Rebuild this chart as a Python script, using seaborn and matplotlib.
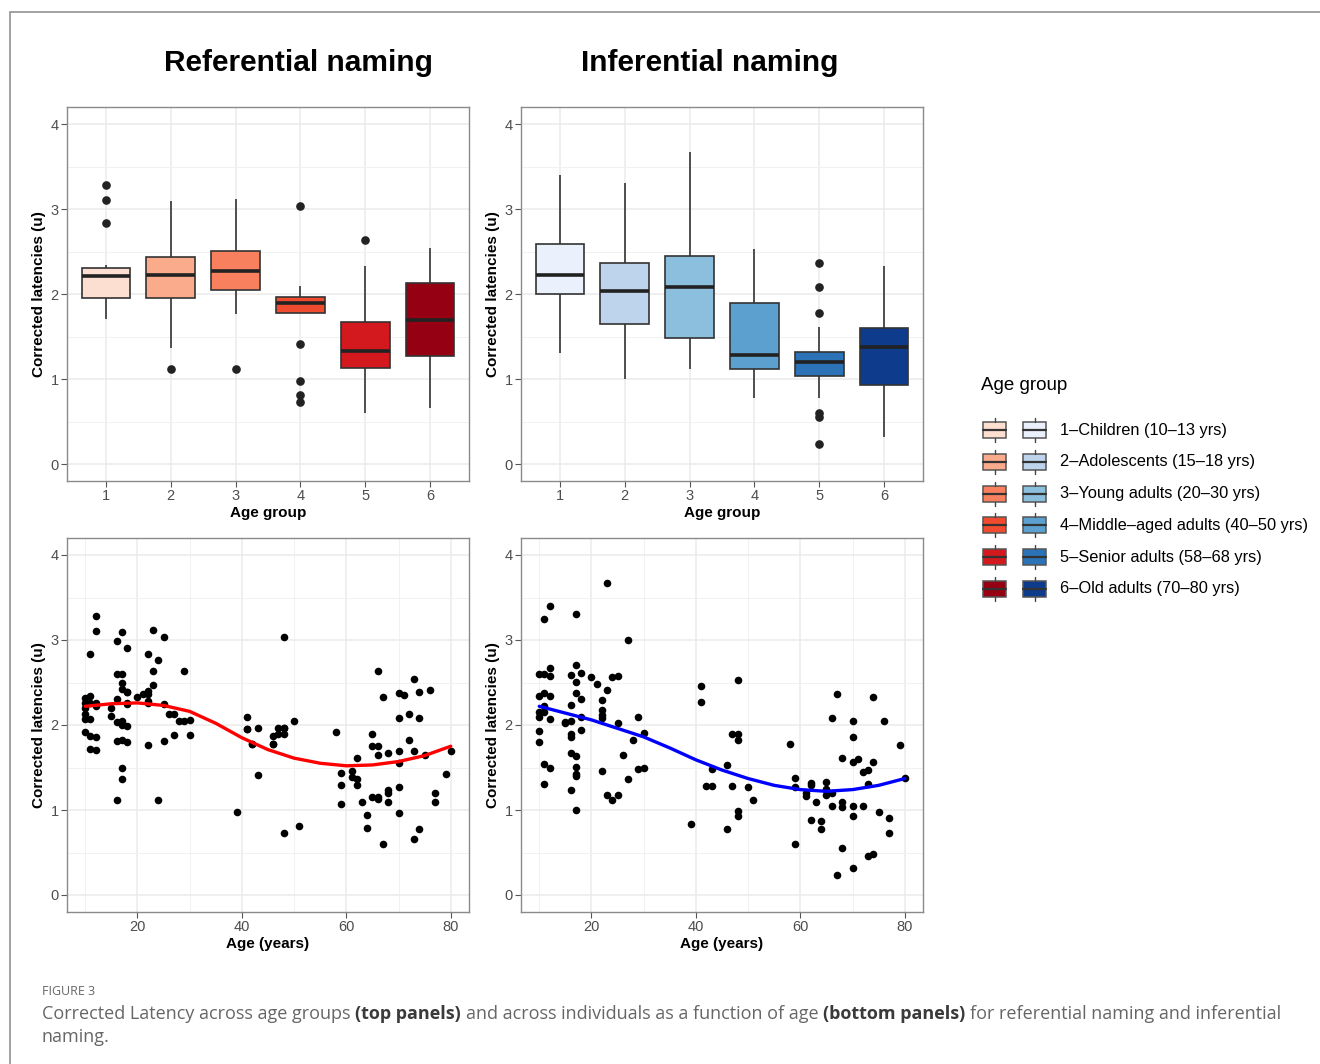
import numpy as np
import pandas as pd
import matplotlib
matplotlib.use("Agg")
import matplotlib.pyplot as plt
import seaborn as sns
from matplotlib.ticker import FixedLocator
from matplotlib.lines import Line2D
from matplotlib.patches import Rectangle

W, H, DPI = 1320, 1064, 100

# ---------------- data ----------------
# Referential naming: age (years) and corrected latency (u) per participant
ref_age = [
    10, 10, 10, 10, 10, 10,
    11, 11, 11, 11, 11, 11,
    12, 12, 12, 12, 12, 12,
    15, 15,
    16, 16, 16, 16, 16, 16,
    17, 17, 17, 17, 17, 17, 17, 17, 17,
    18, 18, 18, 18, 18, 18, 18,
    20, 21,
    22, 22, 22, 22, 22, 22,
    23, 23, 23,
    24, 24,
    25, 25, 25,
    26, 27, 27, 28, 29, 29, 30, 30,
    39, 41, 41, 41, 42, 42, 43, 43,
    46, 46, 46, 47, 47,
    48, 48, 48, 48, 48, 50, 51,
    58, 59, 59, 59, 61, 61, 62, 62, 62, 63, 64, 64,
    65, 65, 65, 66, 66, 66, 66, 66, 67, 67, 68, 68, 68, 68,
    70, 70, 70, 70, 70, 70, 71, 72, 72, 73, 73, 73,
    74, 74, 74, 75, 76, 77, 77, 79, 80,
]
ref_lat = [
    2.32, 2.26, 2.20, 2.13, 2.07, 1.92,
    2.84, 2.34, 2.26, 2.07, 1.87, 1.72,
    3.28, 3.11, 2.26, 2.22, 1.86, 1.71,
    2.20, 2.11,
    2.99, 2.60, 2.31, 2.03, 1.81, 1.12,
    3.10, 2.60, 2.49, 2.42, 2.05, 2.00, 1.82, 1.50, 1.36,
    2.91, 2.39, 2.39, 2.26, 2.25, 1.99, 1.80,
    2.33, 2.36,
    2.83, 2.40, 2.37, 2.28, 2.26, 1.77,
    3.12, 2.63, 2.47,
    2.77, 1.12,
    3.03, 2.25, 1.81,
    2.13, 2.13, 1.88, 2.05, 2.64, 2.05, 2.06, 1.88,
    0.98, 2.10, 1.95, 1.95, 1.78, 1.78, 1.96, 1.41,
    1.87, 1.78, 1.78, 1.97, 1.89,
    3.03, 1.96, 1.96, 1.89, 0.73, 2.05, 0.81,
    1.92, 1.43, 1.29, 1.07, 1.46, 1.39, 1.61, 1.37, 1.29, 1.09, 0.94, 0.79,
    1.90, 1.75, 1.15, 2.64, 1.75, 1.65, 1.15, 1.13, 2.33, 0.60, 1.67, 1.24, 1.20, 1.09,
    2.38, 2.08, 1.69, 1.55, 1.27, 0.96, 2.35, 2.13, 1.82, 2.54, 1.70, 0.66,
    2.39, 2.08, 0.78, 1.65, 2.41, 1.20, 1.10, 1.42, 1.70,
]

# Inferential naming
inf_age = [
    10, 10, 10, 10, 10, 10,
    11, 11, 11, 11, 11, 11, 11,
    12, 12, 12, 12, 12, 12,
    15, 15,
    16, 16, 16, 16, 16, 16, 16,
    17, 17, 17, 17, 17, 17, 17, 17, 17,
    18, 18, 18, 18,
    20, 21,
    22, 22, 22, 22, 22,
    23, 23, 23, 24, 24, 25, 25, 25,
    26, 27, 27, 28, 29, 29, 30, 30,
    39, 41, 41, 42, 43, 43, 46, 46, 47, 47,
    48, 48, 48, 48, 48, 50, 51,
    58, 59, 59, 59, 61, 61, 62, 62, 62, 63, 64, 64,
    65, 65, 65, 65, 66, 66, 66, 67, 67, 68, 68, 68, 68,
    70, 70, 70, 70, 70, 70, 71, 72, 72, 73, 73, 73,
    74, 74, 74, 75, 76, 77, 77, 79, 80,
]
inf_lat = [
    2.60, 2.34, 2.15, 2.09, 1.93, 1.80,
    3.25, 2.60, 2.38, 2.22, 2.15, 1.54, 1.31,
    3.40, 2.67, 2.58, 2.34, 2.07, 1.49,
    2.04, 2.02,
    2.59, 2.23, 2.05, 1.90, 1.86, 1.67, 1.24,
    3.31, 2.71, 2.51, 2.38, 1.64, 1.51, 1.42, 1.40, 1.00,
    2.61, 2.31, 2.09, 1.94,
    2.57, 2.48,
    2.29, 2.18, 2.12, 2.08, 1.46,
    3.67, 2.41, 1.18, 2.56, 1.12, 2.58, 2.02, 1.18,
    1.65, 3.00, 1.37, 1.82, 2.09, 1.48, 1.91, 1.49,
    0.83, 2.46, 2.27, 1.28, 1.48, 1.28, 1.53, 0.78, 1.89, 1.28,
    2.53, 1.89, 1.82, 0.99, 0.93, 1.27, 1.12,
    1.78, 1.38, 1.27, 0.60, 1.20, 1.17, 1.32, 1.29, 0.88, 1.10, 0.87, 0.78,
    1.33, 1.25, 1.24, 1.18, 2.08, 1.20, 1.05, 2.37, 0.24, 1.61, 1.09, 1.04, 0.55,
    2.05, 1.86, 1.56, 1.05, 0.93, 0.32, 1.60, 1.45, 1.05, 1.47, 1.31, 0.46,
    2.33, 1.57, 0.48, 0.98, 2.05, 0.91, 0.73, 1.77, 1.38,
]

# Smoothed trend lines (every 5 years)
trend_age = [10, 15, 20, 25, 30, 35, 40, 45, 50, 55, 60, 65, 70, 75, 80]
ref_trend = [2.22, 2.25, 2.26, 2.23, 2.16, 2.02, 1.85, 1.71, 1.61, 1.55,
             1.52, 1.53, 1.57, 1.64, 1.75]
inf_trend = [2.22, 2.14, 2.06, 1.96, 1.86, 1.73, 1.59, 1.47, 1.37, 1.29,
             1.24, 1.22, 1.24, 1.29, 1.37]

group_ids = ["1", "2", "3", "4", "5", "6"]
group_upper_age = [13, 18, 30, 55, 68, 80]
group_names = [
    "1\u2013Children (10\u201313 yrs)",
    "2\u2013Adolescents (15\u201318 yrs)",
    "3\u2013Young adults (20\u201330 yrs)",
    "4\u2013Middle\u2013aged adults (40\u201350 yrs)",
    "5\u2013Senior adults (58\u201368 yrs)",
    "6\u2013Old adults (70\u201380 yrs)",
]
reds = ["#FDDFD2", "#FAAB8B", "#F9805F", "#F04B2E", "#D3181E", "#950012"]
blues = ["#EAF0FC", "#BDD4EC", "#8CBFDD", "#5BA0CE", "#2B73B6", "#0E3B8B"]


def to_frame(ages, lats):
    ages = np.asarray(ages)
    idx = np.searchsorted(group_upper_age, ages)
    return pd.DataFrame({"age": ages, "lat": np.asarray(lats),
                         "grp": [group_ids[i] for i in idx]})


dref = to_frame(ref_age, ref_lat)
dinf = to_frame(inf_age, inf_lat)

# ---------------- figure ----------------
sns.set_theme(style="white")
plt.rcParams["font.family"] = ["Liberation Sans", "DejaVu Sans"]
plt.rcParams["text.color"] = "black"
plt.rcParams["axes.labelcolor"] = "black"

fig = plt.figure(figsize=(W / DPI, H / DPI), dpi=DPI)
fig.patch.set_facecolor("white")


def px_axes(l, t, r, b):
    return fig.add_axes([l / W, 1 - b / H, (r - l) / W, (b - t) / H])


def style_axes(ax):
    ax.set_ylim(-0.2, 4.2)
    ax.yaxis.set_major_locator(FixedLocator([0, 1, 2, 3, 4]))
    ax.yaxis.set_minor_locator(FixedLocator([0.5, 1.5, 2.5, 3.5]))
    ax.set_axisbelow(True)
    ax.grid(True, which="major", color="#EBEBEB", lw=1.1)
    ax.grid(True, which="minor", color="#F1F1F1", lw=0.7)
    for s in ax.spines.values():
        s.set_visible(True)
        s.set_color("#8A8A8A")
        s.set_linewidth(1.0)
    ax.tick_params(which="major", direction="out", length=4, width=0.8,
                   color="#555555", labelsize=10.5, labelcolor="#4D4D4D", pad=2,
                   left=True, bottom=True)
    ax.tick_params(which="minor", length=0)
    ax.set_ylabel("Corrected latencies (u)", fontsize=11, fontweight="bold",
                  labelpad=3, color="black")


def box_panel(ax, df, pal):
    sns.boxplot(data=df, x="grp", y="lat", hue="grp", order=group_ids,
                hue_order=group_ids, palette=pal, saturation=1, width=0.75,
                dodge=False, linecolor="#333333", linewidth=1.2, showcaps=False,
                fliersize=5.2,
                flierprops=dict(marker="o", markerfacecolor="#222222",
                                markeredgecolor="#222222"),
                medianprops=dict(color="#222222", linewidth=2.6),
                legend=False, ax=ax)
    style_axes(ax)
    ax.set_xlim(-0.6, 5.6)
    ax.xaxis.grid(True, which="major", color="#EBEBEB", lw=1.1)
    ax.set_xlabel("Age group", fontsize=11, fontweight="bold", labelpad=2)


def scatter_panel(ax, df, trend, color):
    sns.scatterplot(data=df, x="age", y="lat", color="black", s=30,
                    linewidth=0, ax=ax, zorder=2)
    sns.lineplot(x=trend_age, y=trend, color=color, lw=2.4, ax=ax, zorder=3)
    style_axes(ax)
    ax.set_xlim(6.5, 83.5)
    ax.xaxis.set_major_locator(FixedLocator([20, 40, 60, 80]))
    ax.xaxis.set_minor_locator(FixedLocator([10, 30, 50, 70]))
    ax.set_xlabel("Age (years)", fontsize=11, fontweight="bold", labelpad=2)


ax_tl = px_axes(67, 107, 469, 481)
ax_tr = px_axes(521, 107, 923, 481)
ax_bl = px_axes(67, 538, 469, 912)
ax_br = px_axes(521, 538, 923, 912)

box_panel(ax_tl, dref, reds)
box_panel(ax_tr, dinf, blues)
scatter_panel(ax_bl, dref, ref_trend, "#FF0000")
scatter_panel(ax_br, dinf, inf_trend, "#0000FF")

fig.text(298 / W, 1 - 71 / H, "Referential naming", ha="center", va="baseline",
         fontsize=21.5, fontweight="bold", color="black")
fig.text(710 / W, 1 - 71 / H, "Inferential naming", ha="center", va="baseline",
         fontsize=21.5, fontweight="bold", color="black")

# ---------------- legend ----------------
lax = fig.add_axes([0, 0, 1, 1], zorder=5)
lax.set_xlim(0, W)
lax.set_ylim(H, 0)
lax.axis("off")
lax.text(981, 385, "Age group", fontsize=13.5, va="center", ha="left", color="black")
row0, row_step = 430, 31.8
for i, name in enumerate(group_names):
    yc = row0 + i * row_step
    for x0, pal in ((983, reds), (1023, blues)):
        lax.add_patch(Rectangle((x0, yc - 8), 23, 16, facecolor=pal[i],
                                edgecolor="#555555", lw=1.1))
        lax.plot([x0, x0 + 23], [yc, yc], color="#333333", lw=1.6)
        lax.plot([x0 + 11.5, x0 + 11.5], [yc - 12, yc - 8], color="#444444", lw=1.0)
        lax.plot([x0 + 11.5, x0 + 11.5], [yc + 8, yc + 12], color="#444444", lw=1.0)
    lax.text(1060, yc, name, fontsize=11.8, va="center", ha="left", color="black")

# ---------------- frame & caption ----------------
fig.add_artist(Line2D([10 / W, 10 / W], [0, 1 - 12 / H], transform=fig.transFigure,
                      color="#9A9A9A", lw=1.3))
fig.add_artist(Line2D([10 / W, 1], [1 - 12 / H, 1 - 12 / H], transform=fig.transFigure,
                      color="#9A9A9A", lw=1.3))

cap_font = ["Open Sans", "DejaVu Sans"]
fig.text(42 / W, 1 - 995 / H, "FIGURE 3", fontsize=9, color="#666666",
         family=cap_font, va="baseline", ha="left")

renderer = fig.canvas.get_renderer()
line1 = [("Corrected Latency across age groups", False), ("(top panels)", True),
         ("and across individuals as a function of age", False),
         ("(bottom panels)", True), ("for referential naming and inferential", False)]


def seg_width(text, bold, fs):
    t = fig.text(0, 0, text, fontsize=fs, family=cap_font,
                 fontweight="bold" if bold else "normal")
    w = t.get_window_extent(renderer).width
    t.remove()
    return w


def space_width(fs):
    return seg_width("a a", False, fs) - seg_width("aa", False, fs)


base = 10.0
tot = sum(seg_width(s, b, base) for s, b in line1) + space_width(base) * (len(line1) - 1)
cap_fs = base * 1245 / tot
sp = space_width(cap_fs)


def draw_line(segs, y_px):
    x = 42.0
    for s, b in segs:
        t = fig.text(x / W, 1 - y_px / H, s, fontsize=cap_fs, family=cap_font,
                     fontweight="bold" if b else "normal",
                     color="#3A3A3A" if b else "#666666", va="baseline", ha="left")
        x += t.get_window_extent(renderer).width + sp


draw_line(line1, 1019)
draw_line([("naming.", False)], 1042)

fig.savefig("out.png", dpi=DPI)
